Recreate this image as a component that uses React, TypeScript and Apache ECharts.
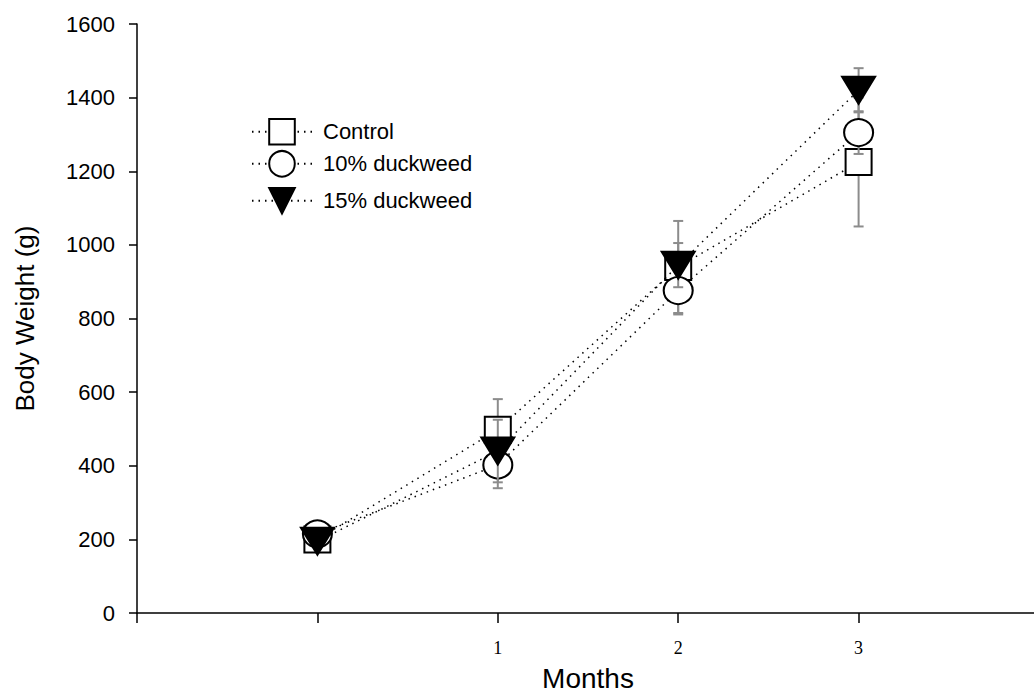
import React, { useEffect, useRef } from "react";
import * as echarts from "echarts";

const months = [0, 1, 2, 3];
const xTickLabels = ["1", "2", "3"];
const seriesNames = ["Control", "10% duckweed", "15% duckweed"];
const controlMean = [200, 498, 940, 1225];
const controlErr = [20, 83, 125, 175];
const duck10Mean = [215, 402, 876, 1305];
const duck10Err = [30, 63, 65, 58];
const duck15Mean = [195, 440, 945, 1420];
const duck15Err = [15, 85, 60, 60];

export default function App() {
  const ref = useRef<HTMLDivElement>(null);
  useEffect(() => {
    document.body.style.margin = "0";
    const chart = echarts.init(ref.current!, null, { renderer: "svg" });
    const means = [controlMean, duck10Mean, duck15Mean];
    const errs = [controlErr, duck10Err, duck15Err];
    const symbols = ["rect", "circle", "triangle"];
    const sizes: any[] = [26, [29, 27], [33, 27]];
    const rotates = [0, 0, 180];
    const fills = ["#ffffff", "#ffffff", "#000000"];
    const legendTops = [113, 145, 182];
    const sans = "Liberation Sans, Arial, sans-serif";

    const series: any[] = [];
    means.forEach((m, i) => {
      series.push({
        type: "custom",
        name: seriesNames[i] + " err",
        z: 1 + i * 2,
        silent: true,
        renderItem: (params: any, api: any) => {
          const x = api.value(0);
          const lo = api.coord([x, api.value(1)]);
          const hi = api.coord([x, api.value(2)]);
          const c = 5;
          const st = { stroke: "#8c8c8c", lineWidth: 2 };
          return {
            type: "group",
            children: [
              { type: "line", shape: { x1: lo[0], y1: lo[1], x2: hi[0], y2: hi[1] }, style: st },
              { type: "line", shape: { x1: lo[0] - c, y1: lo[1], x2: lo[0] + c, y2: lo[1] }, style: st },
              { type: "line", shape: { x1: hi[0] - c, y1: hi[1], x2: hi[0] + c, y2: hi[1] }, style: st },
            ],
          };
        },
        data: months.map((x, j) => [x, m[j] - errs[i][j], m[j] + errs[i][j]]),
      });
      series.push({
        type: "line",
        name: seriesNames[i],
        z: 2 + i * 2,
        symbol: symbols[i],
        symbolSize: sizes[i],
        symbolRotate: rotates[i],
        showSymbol: true,
        itemStyle: { color: fills[i], borderColor: "#000", borderWidth: 2, opacity: 1 },
        lineStyle: { color: "#000", width: 1.5, type: [1.5, 5] },
        data: months.map((x, j) => [x, m[j]]),
      });
    });

    chart.setOption({
      animation: false,
      textStyle: { fontFamily: sans },
      legend: seriesNames.map((n, i) => ({
        data: [n],
        left: 246,
        top: legendTops[i],
        orient: "vertical",
        itemWidth: 60,
        itemHeight: 32,
        itemGap: 0,
        selectedMode: false,
        textStyle: { fontSize: 22, color: "#000", fontFamily: sans, padding: [0, 0, 0, 6] },
      })),
      grid: { left: 137, top: 24, bottom: 80, right: -5, containLabel: false, outerBoundsMode: "none" },
      xAxis: {
        type: "value",
        min: -1,
        max: 4,
        interval: 1,
        name: "Months",
        nameLocation: "middle",
        nameGap: 51,
        nameTextStyle: { fontSize: 28, color: "#000", fontFamily: sans },
        axisLine: { show: true, onZero: false, lineStyle: { color: "#000", width: 1.5 } },
        axisTick: { show: true, inside: false, length: 10, lineStyle: { color: "#000", width: 1.5 } },
        axisLabel: {
          margin: 26,
          fontSize: 18,
          color: "#000",
          fontFamily: "Liberation Serif, Times New Roman, serif",
          formatter: (v: number) => (v >= 1 && v <= 3 ? xTickLabels[v - 1] : ""),
        },
        splitLine: { show: false },
      },
      yAxis: {
        type: "value",
        min: 0,
        max: 1600,
        interval: 200,
        name: "Body Weight (g)",
        nameLocation: "middle",
        nameGap: 99,
        nameTextStyle: { fontSize: 26, color: "#000", fontFamily: sans },
        axisLine: { show: true, onZero: false, lineStyle: { color: "#000", width: 1.5 } },
        axisTick: { show: true, inside: false, length: 8, lineStyle: { color: "#000", width: 1.5 } },
        axisLabel: {
          margin: 22,
          fontSize: 22,
          color: "#000",
          fontFamily: sans,
          formatter: (v: number) => String(v),
        },
        splitLine: { show: false },
      },
      series,
    });
    return () => chart.dispose();
  }, []);
  return <div ref={ref} style={{ width: 1034, height: 693 }} />;
}
